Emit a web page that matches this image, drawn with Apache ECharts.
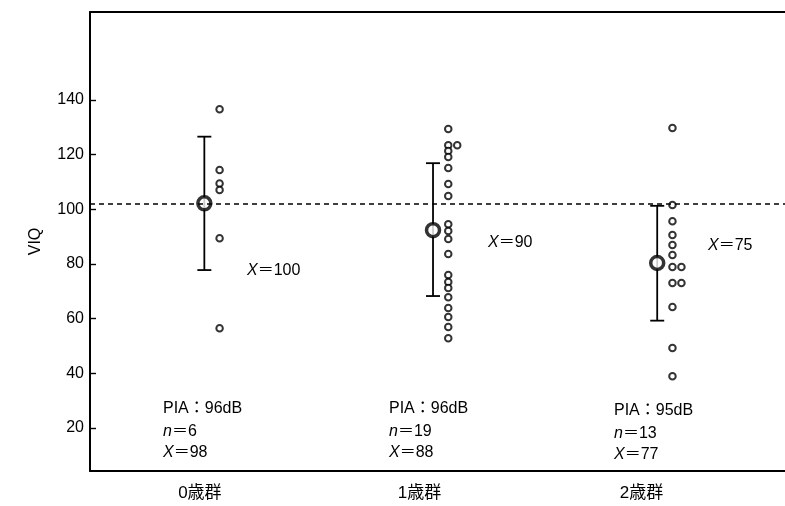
<!DOCTYPE html>
<html>
<head>
<meta charset="utf-8">
<script src="https://cdn.jsdelivr.net/npm/echarts@6/dist/echarts.min.js"></script>
<style>
html,body{margin:0;padding:0;background:#fff;}
#chart{width:785px;height:506px;}
</style>
</head>
<body>
<div id="chart"></div>
<script>
// ---------- data ----------
const categories = ['0歳群', '1歳群', '2歳群'];
const yTicks = [20, 40, 60, 80, 100, 120, 140];
const group0 = [136.6, 114.4, 109.5, 107.1, 89.4, 56.5];
const group1 = [129.4, 123.5, 123.5, 121.4, 119.2, 115.1, 109.3, 104.9, 94.6, 92.1, 89.2, 83.7, 76.0, 73.4, 71.2, 67.9, 63.9, 60.6, 57.0, 52.9];
const group2 = [129.8, 101.6, 95.7, 90.6, 87.0, 83.3, 78.9, 78.9, 73.1, 73.1, 64.3, 49.3, 39.0];
const means = [102.2, 92.4, 80.4];
const sdHigh = [126.6, 116.9, 101.3];
const sdLow = [77.8, 68.3, 59.3];
const refLine = 102;
const meanLabels = [100, 90, 75];
const piaValues = [96, 96, 95];
const nValues = [6, 19, 13];
const xValues = [98, 88, 77];

// ---------- layout ----------
const groups = [group0, group1, group2];
const meanX = [0.51, 1.53, 2.53];
const pointShift = 0.068;
const dupShift = 0.04;
const labelX = [0.49, 1.47, 2.46];
const FONT = "'Liberation Sans', 'Noto Sans CJK JP', sans-serif";

const pointData = [];
groups.forEach((g, i) => {
  const seen = {};
  g.forEach(v => {
    const k = String(v);
    const c = seen[k] || 0;
    seen[k] = c + 1;
    pointData.push([meanX[i] + pointShift + c * dupShift, v]);
  });
});
const meanData = means.map((m, i) => [meanX[i], m]);
const barData = means.map((m, i) => [meanX[i], sdLow[i], sdHigh[i]]);

const meanTextPos = [[247, 271], [488, 243], [708, 246]];
const statPos = [[163, 409], [389, 409], [614, 411]];
const lineGap = [23, 21, 23];

const graphics = [];
meanLabels.forEach((v, i) => {
  graphics.push({
    type: 'text', x: meanTextPos[i][0], y: meanTextPos[i][1],
    style: { text: '{i|X}＝' + v, verticalAlign: 'middle', fill: '#000', font: '16px ' + FONT,
      rich: { i: { fontStyle: 'italic', fontSize: 16, fontFamily: FONT } } }
  });
});
piaValues.forEach((p, i) => {
  const [x, y] = statPos[i];
  graphics.push({ type: 'text', x: x, y: y,
    style: { text: 'PIA：' + p + 'dB', verticalAlign: 'middle', fill: '#000', font: '16px ' + FONT } });
  graphics.push({ type: 'text', x: x, y: y + lineGap[0],
    style: { text: '{i|n}＝' + nValues[i], verticalAlign: 'middle', fill: '#000', font: '16px ' + FONT,
      rich: { i: { fontStyle: 'italic', fontSize: 16, fontFamily: FONT } } } });
  graphics.push({ type: 'text', x: x, y: y + lineGap[0] + lineGap[1],
    style: { text: '{i|X}＝' + xValues[i], verticalAlign: 'middle', fill: '#000', font: '16px ' + FONT,
      rich: { i: { fontStyle: 'italic', fontSize: 16, fontFamily: FONT } } } });
});

const chart = echarts.init(document.getElementById('chart'), null, { renderer: 'canvas' });
chart.setOption({
  animation: false,
  backgroundColor: '#fff',
  grid: { left: 90, right: 0, top: 12, bottom: 35 },
  xAxis: [{
    type: 'value', min: 0, max: 3.1, position: 'bottom',
    splitLine: { show: false },
    axisLine: { show: true, lineStyle: { color: '#000', width: 2 } },
    axisTick: { show: false },
    axisLabel: {
      customValues: labelX, color: '#000', fontSize: 17, fontFamily: FONT, margin: 14,
      formatter: v => categories[Math.floor(v)]
    }
  }, {
    type: 'value', min: 0, max: 3.1, position: 'top',
    splitLine: { show: false },
    axisLine: { show: true, onZero: false, lineStyle: { color: '#000', width: 1.8 } },
    axisTick: { show: false }, axisLabel: { show: false }
  }],
  yAxis: {
    type: 'value', min: 4.3, max: 172.2,
    name: 'VIQ', nameLocation: 'middle', nameGap: 46, nameRotate: 90,
    nameTextStyle: { color: '#000', fontSize: 16, fontFamily: FONT },
    splitLine: { show: false },
    axisLine: { show: true, lineStyle: { color: '#000', width: 2 } },
    axisTick: { show: true, inside: true, length: 6, customValues: yTicks, lineStyle: { color: '#000', width: 1.4 } },
    axisLabel: { customValues: yTicks, color: '#000', fontSize: 16, fontFamily: FONT, margin: 6 }
  },
  series: [
    {
      type: 'custom', data: barData, z: 2,
      renderItem: (params, api) => {
        const lo = api.coord([api.value(0), api.value(1)]);
        const hi = api.coord([api.value(0), api.value(2)]);
        const w = 7;
        const st = { stroke: '#000', lineWidth: 1.8 };
        return { type: 'group', children: [
          { type: 'line', shape: { x1: lo[0], y1: lo[1], x2: hi[0], y2: hi[1] }, style: st },
          { type: 'line', shape: { x1: lo[0] - w, y1: lo[1], x2: lo[0] + w, y2: lo[1] }, style: st },
          { type: 'line', shape: { x1: hi[0] - w, y1: hi[1], x2: hi[0] + w, y2: hi[1] }, style: st }
        ] };
      },
      markLine: {
        silent: true, symbol: 'none', label: { show: false },
        lineStyle: { color: '#000', type: [5, 4], width: 1.5 },
        data: [{ yAxis: refLine }]
      }
    },
    {
      type: 'scatter', data: pointData, symbol: 'circle', symbolSize: 6.5, z: 3,
      itemStyle: { color: '#fff', borderColor: '#000', borderWidth: 2 }
    },
    {
      type: 'scatter', data: meanData, symbol: 'circle', symbolSize: 13, z: 4,
      itemStyle: { color: '#fff', borderColor: '#000', borderWidth: 3.5 }
    }
  ],
  graphic: graphics
});
</script>
</body>
</html>
